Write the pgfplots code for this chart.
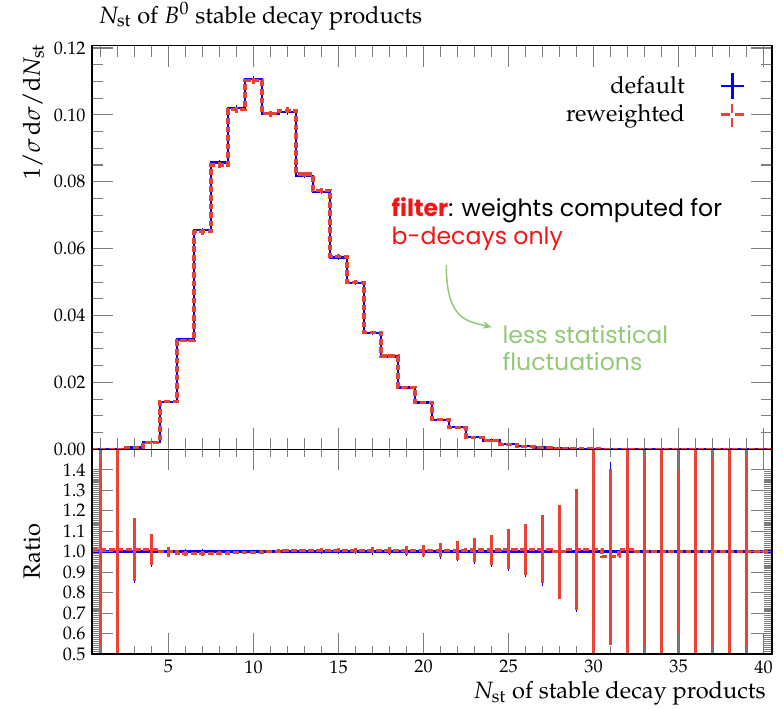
\documentclass[border=0pt]{standalone}
\usepackage[no-math]{fontspec}
\usepackage[T1]{fontenc}
\usepackage{mathpazo}
\newfontfamily\annfont{Poppins}
\usepackage{pgfplots}
\pgfplotsset{compat=1.18}
\usepackage{pgfplotstable}
\usetikzlibrary{arrows.meta}

\definecolor{defblue}{RGB}{0,0,255}
\definecolor{rwred}{RGB}{235,64,52}
\definecolor{annred}{RGB}{245,20,20}
\definecolor{anngreen}{RGB}{146,200,118}
\definecolor{tickgray}{RGB}{125,125,125}

\newcommand{\lblfont}{\fontsize{13}{15}\selectfont}
\newcommand{\tckfont}{\fontsize{10}{12}\selectfont}

% lo: lower bin edge; def/rw: normalised histograms with errors de/re;
% rd/rrw: ratios to default with errors rde/rre. Last row closes the step line.
\pgfplotstableread{
lo    def      rw       de       re       rd  rrw    rre    rde
0.5   0        0        0        0        1   1.010  1.0    1.0
1.5   0        0        0        0        1   1.010  1.0    1.0
2.5   0.0005   0.0005   0.0001   0.0001   1   1.010  0.155  0.155
3.5   0.0021   0.0021   0.00016  0.00016  1   1.010  0.075  0.075
4.5   0.0142   0.0142   0.00035  0.00035  1   1.000  0.025  0.025
5.5   0.0328   0.0325   0.00043  0.00043  1   0.992  0.013  0.013
6.5   0.0655   0.0650   0.00078  0.00078  1   0.992  0.012  0.012
7.5   0.0857   0.0850   0.00085  0.00085  1   0.992  0.010  0.010
8.5   0.1020   0.1015   0.0008   0.0008   1   0.995  0.008  0.008
9.5   0.1108   0.1102   0.0009   0.0009   1   0.995  0.008  0.008
10.5  0.1003   0.1003   0.0008   0.0008   1   1.000  0.008  0.008
11.5  0.1008   0.1014   0.0008   0.0008   1   1.006  0.008  0.008
12.5  0.0818   0.0823   0.00074  0.00074  1   1.006  0.009  0.009
13.5  0.0770   0.0775   0.00077  0.00077  1   1.006  0.010  0.010
14.5  0.0573   0.0577   0.00063  0.00063  1   1.007  0.011  0.011
15.5  0.0497   0.0500   0.0006   0.0006   1   1.007  0.012  0.012
16.5  0.0347   0.0349   0.00052  0.00052  1   1.007  0.015  0.015
17.5  0.0277   0.0279   0.0005   0.0005   1   1.007  0.018  0.018
18.5  0.0185   0.0186   0.0004   0.0004   1   1.007  0.022  0.022
19.5  0.0140   0.0141   0.00038  0.00038  1   1.007  0.027  0.027
20.5  0.0088   0.0089   0.0003   0.0003   1   1.007  0.035  0.035
21.5  0.0066   0.0066   0.0003   0.0003   1   1.007  0.046  0.046
22.5  0.0036   0.0036   0.00021  0.00021  1   1.008  0.060  0.060
23.5  0.0026   0.0026   0.00019  0.00019  1   1.008  0.074  0.074
24.5  0.0015   0.0015   0.00014  0.00014  1   1.012  0.097  0.097
25.5  0.0009   0.0009   0.0001   0.0001   1   1.012  0.124  0.124
26.5  0.0005   0.0005   0.00008  0.00008  1   1.012  0.167  0.167
27.5  0.0003   0.0003   0.00007  0.00007  1   1.000  0.230  0.230
28.5  0.00015  0.00015  0.00004  0.00004  1   1.012  0.295  0.295
29.5  0.0001   0.0001   0.00003  0.00003  1   1.012  1.0    1.0
30.5  0.00005  0.00005  0.00002  0.00002  1   0.975  0.43   0.44
31.5  0.00002  0.00002  0.00001  0.00001  1   1.012  1.0    1.0
32.5  0        0        0        0        1   1.000  1.0    1.0
33.5  0        0        0        0        1   1.000  1.0    1.0
34.5  0        0        0        0        1   1.000  1.0    1.0
35.5  0        0        0        0        1   1.000  1.0    1.0
36.5  0        0        0        0        1   1.000  1.0    1.0
37.5  0        0        0        0        1   1.000  1.0    1.0
38.5  0        0        0        0        1   1.000  1.0    1.0
39.5  0        0        0        0        1   1.000  0      0
40.5  0        0        0        0        1   1.000  0      0
}\nst

\pgfplotsset{
  panel/.style={
    scale only axis, width=374pt,
    xmin=0.5, xmax=40.5, enlargelimits=false,
    xtick={5,10,...,40}, minor xtick={1,2,...,40},
    axis on top, tick align=inside,
    tick label style={font=\tckfont},
    axis line style={black, line width=0.6pt},
    tick style={draw=tickgray, line width=0.6pt},
    major tick length=11.5pt,
  },
  defline/.style={defblue, line width=1.3pt, const plot, mark=none},
  rwline/.style={rwred, line width=1.7pt, const plot, mark=none, dash pattern=on 3.2pt off 1.5pt},
  defbars/.style={draw=none, mark=none, forget plot,
    error bars/.cd, y dir=both, y explicit, error mark=none,
    error bar style={draw=defblue, line width=1.0pt, solid}},
  rwbars/.style={draw=none, mark=none, forget plot,
    error bars/.cd, y dir=both, y explicit, error mark=none,
    error bar style={draw=rwred, line width=1.15pt, solid}},
}

\begin{document}
\begin{tikzpicture}
% ratio panel
\begin{axis}[panel, name=bot, at={(0,0)}, anchor=south west, height=112.6pt,
  ymin=0.5, ymax=1.5,
  ytick={0.5,0.6,0.7,0.8,0.9,1.0,1.1,1.2,1.3,1.4},
  minor y tick num=9, minor tick length=4.5pt,
  yticklabel style={/pgf/number format/.cd, fixed, fixed zerofill, precision=1},
  xlabel={$N_{\mathrm{st}}$ of stable decay products},
  xlabel style={at={([yshift=-24.75pt]rel axis cs:1,0)}, anchor=base east, font=\lblfont},
  ylabel={Ratio},
  ylabel style={at={([xshift=-28.6pt]rel axis cs:0,0.5)}, anchor=base, font=\lblfont},
]
\addplot[defline, forget plot] table[x=lo, y=rd]{\nst};
\addplot[defbars] table[x expr=\thisrow{lo}+0.5, y=rd, y error=rde]{\nst};
\addplot[rwbars] table[x expr=\thisrow{lo}+0.5, y=rrw, y error=rre]{\nst};
\addplot[rwline, forget plot] table[x=lo, y=rrw]{\nst};
\end{axis}

% distribution panel
\begin{axis}[panel, name=top, at={(0,112.6pt)}, anchor=south west, height=222pt,
  ymin=0, ymax=0.1207,
  ytick={0,0.02,0.04,0.06,0.08,0.10,0.12},
  minor y tick num=3, minor tick length=6pt,
  scaled y ticks=false,
  yticklabel style={/pgf/number format/.cd, fixed, fixed zerofill, precision=2},
  xticklabels={},
  title={$N_{\mathrm{st}}$ of $B^0$ stable decay products},
  title style={at={([yshift=6.3pt]rel axis cs:0,1)}, anchor=base west, font=\lblfont},
  ylabel={$1/\sigma\,\mathrm{d}\sigma/\mathrm{d}N_{\mathrm{st}}$},
  ylabel style={at={([xshift=-28.6pt,yshift=4.2pt]rel axis cs:0,1)}, anchor=base east, font=\lblfont},
  legend style={at={(rel axis cs:0.961,0.9356)}, anchor=north east, draw=none, fill=none,
    inner sep=0pt, font=\lblfont, row sep=0.5pt,
    /tikz/every odd column/.append style={column sep=17pt}},
  legend plot pos=right, legend cell align=right,
  legend image code/.code={
    \draw[#1] (0pt,0pt) -- (12.6pt,0pt);
    \draw[#1] (6.3pt,-6.9pt) -- (6.3pt,6.9pt);
  },
]
\addplot[defline, forget plot] table[x=lo, y=def]{\nst};
\addplot[defbars] table[x expr=\thisrow{lo}+0.5, y=def, y error=de]{\nst};
\addplot[rwline, forget plot] table[x=lo, y=rw]{\nst};
\addplot[rwbars] table[x expr=\thisrow{lo}+0.5, y=rw, y error=re]{\nst};

\addlegendimage{defblue, line width=1.6pt}
\addlegendentry{\lblfont default}
\addlegendimage{rwred, line width=1.3pt, dash pattern=on 5pt off 2.6pt}
\addlegendentry{\lblfont reweighted}

\node[anchor=base west, inner sep=0pt, font=\annfont\fontsize{13}{15}\selectfont]
  at (axis cs:18.1,0.0695) {\textcolor{annred}{\bfseries filter}: weights computed for};
\node[anchor=base west, inner sep=0pt, text=annred, font=\annfont\fontsize{13}{15}\selectfont]
  at (axis cs:18.1,0.0611) {b-decays only};
\draw[anngreen, line width=0.8pt, -{Stealth[length=5pt,width=4pt]}]
  (axis cs:21.34,0.0551) .. controls (axis cs:21.34,0.0387) and (axis cs:22.55,0.0383)
  .. (axis cs:24.02,0.0365);
\node[anchor=base west, inner sep=0pt, text=anngreen, font=\annfont\fontsize{13}{15}\selectfont]
  at (axis cs:24.63,0.0315) {less statistical};
\node[anchor=base west, inner sep=0pt, text=anngreen, font=\annfont\fontsize{13}{15}\selectfont]
  at (axis cs:24.63,0.0237) {fluctuations};
\end{axis}

\pgfresetboundingbox
\path (-50.6pt,-30.25pt) rectangle (380.05pt,359.7pt);
\end{tikzpicture}
\end{document}
